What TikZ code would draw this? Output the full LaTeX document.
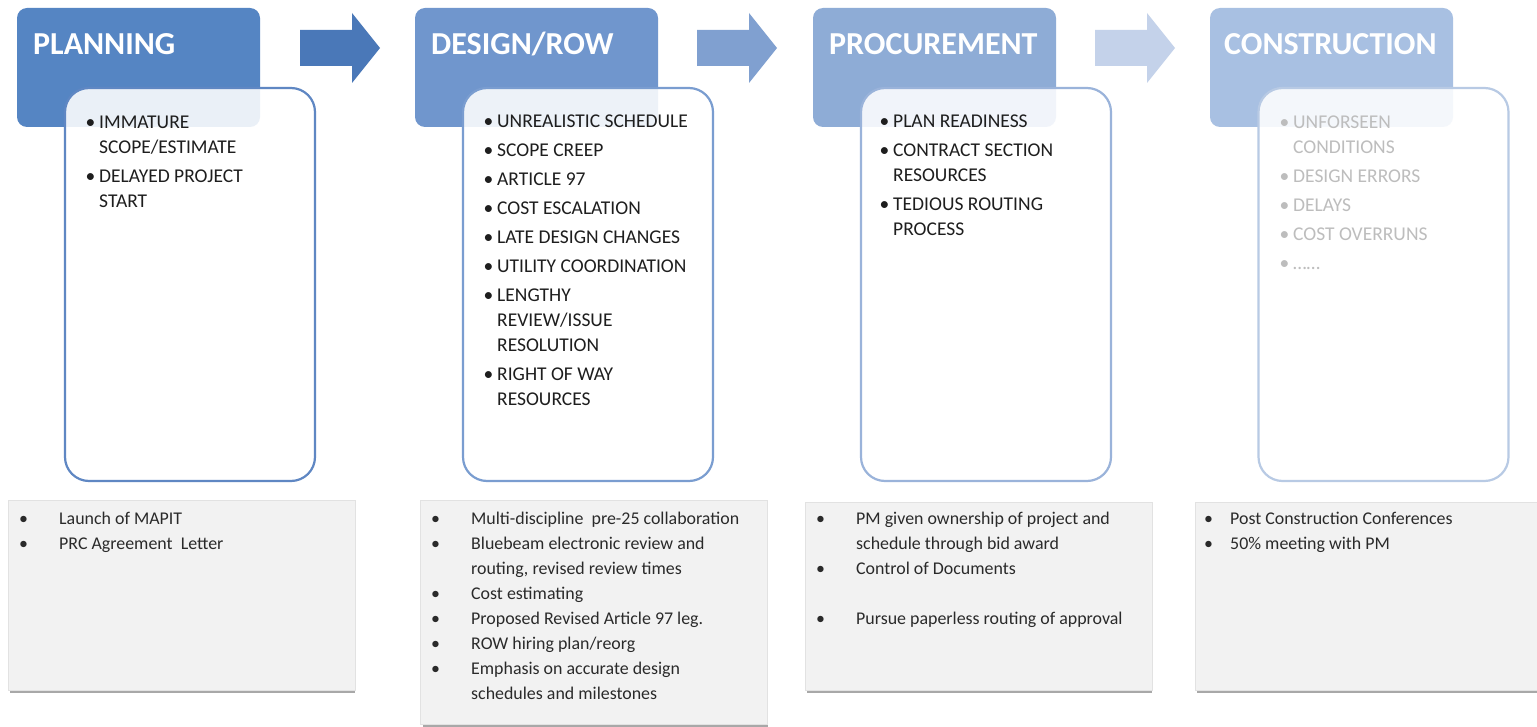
\documentclass[tikz,border=0pt]{standalone}
\usepackage{fontspec}
\setmainfont{Carlito}
\usepackage{array}

\definecolor{hdrA}{HTML}{5585C3}
\definecolor{hdrB}{HTML}{7096CD}
\definecolor{hdrC}{HTML}{8EACD6}
\definecolor{hdrD}{HTML}{A8C0E2}
\definecolor{arrA}{HTML}{4A78B8}
\definecolor{arrB}{HTML}{80A0D0}
\definecolor{arrC}{HTML}{C4D2EA}
\definecolor{brdA}{HTML}{5F87C3}
\definecolor{brdB}{HTML}{7A9DD0}
\definecolor{brdC}{HTML}{9AB3DA}
\definecolor{brdD}{HTML}{B8CAE4}
\definecolor{itemDark}{HTML}{1E1E1E}
\definecolor{itemLight}{HTML}{BDBDBD}
\definecolor{noteFill}{HTML}{F2F2F2}
\definecolor{noteEdge}{HTML}{E2E2E2}
\definecolor{noteShadow}{HTML}{A8A8A8}
\definecolor{noteText}{HTML}{2A2A2A}

\newcommand\ilist[1]{\begin{tabular}[t]{@{}p{13.5pt}@{}l@{}}#1\end{tabular}}
\newcommand\nlist[2]{\begin{tabular}[t]{@{}p{#1}@{}l@{}}#2\end{tabular}}

\tikzset{
  hdrbox/.style={rounded corners=10pt, minimum width=243pt, minimum height=119pt, inner sep=0pt, draw=none},
  hdrtitle/.style={anchor=base west, inner sep=0pt, text=white, font=\fontsize{32}{38}\selectfont\bfseries},
  innerbox/.style={rounded corners=24pt, minimum width=250pt, minimum height=393pt, inner sep=0pt, fill=white, fill opacity=0.88, line width=2.2pt},
  itemtext/.style={anchor=base west, inner sep=0pt, font=\fontsize{19.5}{25}\selectfont},
  notebox/.style={fill=noteFill, draw=noteEdge, line width=0.6pt, minimum width=347pt, inner sep=0pt},
  noteshadow/.style={fill=noteShadow, draw=none, minimum width=345pt, minimum height=4pt, inner sep=0pt},
  notetext/.style={anchor=base west, inner sep=0pt, text=noteText, font=\fontsize{17.9}{25}\selectfont},
}

\begin{document}
\begin{tikzpicture}[x=1pt, y=-1pt]
\clip (0,0) rectangle (1537,727);
\fill[white] (0,0) rectangle (1537,727);

% header boxes
\node[hdrbox, fill=hdrA] (h1) at (138.5,67.5) {};
\node[hdrbox, fill=hdrB] (h2) at (536.5,67.5) {};
\node[hdrbox, fill=hdrC] (h3) at (934.5,67.5) {};
\node[hdrbox, fill=hdrD] (h4) at (1331.5,67.5) {};

\node[hdrtitle] (ht1) at (33,55) {PLANNING};
\node[hdrtitle] (ht2) at (431,55) {DESIGN/ROW};
\node[hdrtitle] (ht3) at (829,55) {PROCUREMENT};
\node[hdrtitle] (ht4) at (1224,55) {CONSTRUCTION};

% block arrows
\fill[arrA] (300,30) -- (352,30) -- (352,13) -- (380,48) -- (352,83) -- (352,66) -- (300,66) -- cycle;
\fill[arrB] (697,30) -- (749,30) -- (749,13) -- (777,48) -- (749,83) -- (749,66) -- (697,66) -- cycle;
\fill[arrC] (1095,30) -- (1147,30) -- (1147,13) -- (1175,48) -- (1147,83) -- (1147,66) -- (1095,66) -- cycle;

% inner boxes
\node[innerbox, draw=brdA] (i1) at (190,284.5) {};
\node[innerbox, draw=brdB] (i2) at (588,284.5) {};
\node[innerbox, draw=brdC] (i3) at (986,284.5) {};
\node[innerbox, draw=brdD] (i4) at (1383.5,284.5) {};

\node[itemtext, text=itemDark] (l1) at (85.5,129) {\ilist{%
\textbullet & IMMATURE\\
 & SCOPE/ESTIMATE\\[4pt]
\textbullet & DELAYED PROJECT\\
 & START}};

\node[itemtext, text=itemDark] (l2) at (483.5,128) {\ilist{%
\textbullet & UNREALISTIC SCHEDULE\\[4pt]
\textbullet & SCOPE CREEP\\[4pt]
\textbullet & ARTICLE 97\\[4pt]
\textbullet & COST ESCALATION\\[4pt]
\textbullet & LATE DESIGN CHANGES\\[4pt]
\textbullet & UTILITY COORDINATION\\[4pt]
\textbullet & LENGTHY\\
 & REVIEW/ISSUE\\
 & RESOLUTION\\[4pt]
\textbullet & RIGHT OF WAY\\
 & RESOURCES}};

\node[itemtext, text=itemDark] (l3) at (879.5,128) {\ilist{%
\textbullet & PLAN READINESS\\[4pt]
\textbullet & CONTRACT SECTION\\
 & RESOURCES\\[4pt]
\textbullet & TEDIOUS ROUTING\\
 & PROCESS}};

\node[itemtext, text=itemLight] (l4) at (1279.5,129) {\ilist{%
\textbullet & UNFORSEEN\\
 & CONDITIONS\\[4pt]
\textbullet & DESIGN ERRORS\\[4pt]
\textbullet & DELAYS\\[4pt]
\textbullet & COST OVERRUNS\\[4pt]
\textbullet & ……}};

% bottom note boxes
\node[noteshadow] (s1) at (182.5,691) {};
\node[noteshadow] (s2) at (595,725) {};
\node[noteshadow] (s3) at (979.5,691) {};
\node[noteshadow] (s4) at (1369.5,691) {};
\node[notebox, minimum height=190pt] (n1) at (181.5,595) {};
\node[notebox, minimum height=224pt] (n2) at (594,612) {};
\node[notebox, minimum height=188pt] (n3) at (978.5,596) {};
\node[notebox, minimum height=188pt] (n4) at (1368.5,596) {};

\node[notetext] (nt1) at (19,524) {\nlist{40pt}{%
\textbullet & Launch of MAPIT\\
\textbullet & PRC Agreement\ \ Letter}};

\node[notetext] (nt2) at (431,524) {\nlist{40pt}{%
\textbullet & Multi-discipline\ \ pre-25 collaboration\\
\textbullet & Bluebeam electronic review and\\
 & routing, revised review times\\
\textbullet & Cost estimating\\
\textbullet & Proposed Revised Article 97 leg.\\
\textbullet & ROW hiring plan/reorg\\
\textbullet & Emphasis on accurate design\\
 & schedules and milestones}};

\node[notetext] (nt3) at (816,524) {\nlist{40pt}{%
\textbullet & PM given ownership of project and\\
 & schedule through bid award\\
\textbullet & Control of Documents\\
 & \\
\textbullet & Pursue paperless routing of approval}};

\node[notetext] (nt4) at (1204,524) {\nlist{26pt}{%
\textbullet & Post Construction Conferences\\
\textbullet & 50\% meeting with PM}};
\end{tikzpicture}
\end{document}
